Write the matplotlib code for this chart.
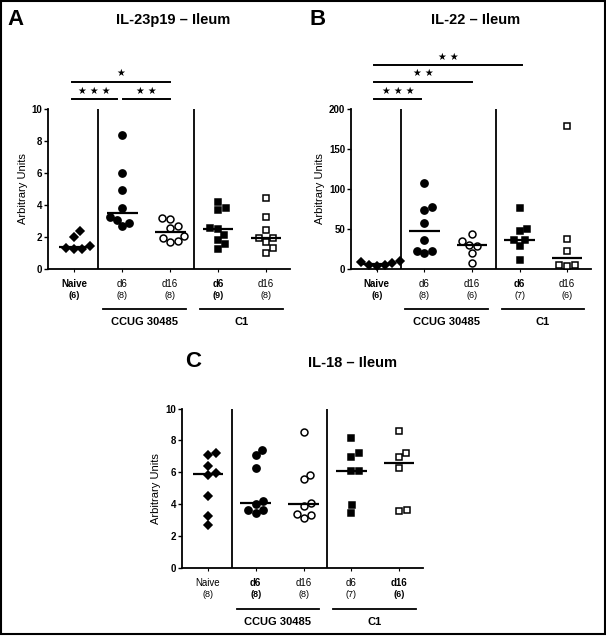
import numpy as np
import matplotlib
matplotlib.use('Agg')
import matplotlib.pyplot as plt
from matplotlib.transforms import blended_transform_factory
from matplotlib.patches import Rectangle

plt.rcParams['font.family'] = ['Liberation Sans', 'DejaVu Sans']

# categories
names = ['Naive', 'd6', 'd16', 'd6', 'd16']
strains = ['CCUG 30485', 'C1']

# A - IL-23p19
a_naive = [2.35, 1.98, 1.30, 1.25, 1.25, 1.42]
a_ccug_d6 = [8.33, 5.95, 4.90, 3.76, 3.03, 3.20, 2.88, 2.65]
a_ccug_d16 = [3.13, 3.19, 2.69, 2.55, 1.90, 1.67, 1.71, 2.02]
a_c1_d6 = [4.18, 3.78, 3.67, 2.46, 2.53, 2.11, 1.80, 1.52, 1.25]
a_c1_d16 = [4.43, 3.24, 2.40, 1.90, 1.94, 1.69, 1.27, 1.00]
a_n = ['(6)', '(8)', '(8)', '(9)', '(8)']

# B - IL-22
b_naive = [8.0, 5.0, 3.5, 4.0, 7.0, 9.5]
b_ccug_d6 = [107.7, 76.8, 73.5, 57.2, 35.9, 22.5, 20.0, 22.5]
b_ccug_d16 = [43.9, 30.1, 28.0, 33.9, 20.1, 7.1]
b_c1_d6 = [75.6, 47.2, 49.3, 35.9, 35.9, 28.8, 11.3]
b_c1_d16 = [178.3, 37.2, 22.5, 4.2, 2.9, 4.2]
b_n = ['(6)', '(8)', '(6)', '(7)', '(6)']

# C - IL-18
c_naive = [7.18, 7.06, 6.37, 5.97, 5.84, 4.54, 3.24, 2.71]
c_ccug_d6 = [7.37, 7.08, 6.26, 4.18, 4.03, 3.66, 3.45, 3.66]
c_ccug_d16 = [8.55, 5.84, 5.55, 4.10, 3.90, 3.40, 3.13, 3.30]
c_c1_d6 = [8.17, 7.18, 6.97, 6.07, 6.07, 3.95, 3.45]
c_c1_d16 = [8.57, 6.95, 7.18, 6.24, 3.55, 3.66]
c_n = ['(8)', '(8)', '(8)', '(7)', '(6)']

markers = ['D', 'o', 'o', 's', 's']
filled = [True, True, False, True, False]
msizes = [4.2, 5.2, 5.0, 5.0, 5.0]


def swarm(ax, x0, values, d_px=8.0):
    ys = ax.transData.transform([(x0, v) for v in values])[:, 1]
    px_per_x = ax.transData.transform((1, 0))[0] - ax.transData.transform((0, 0))[0]
    offs = np.zeros(len(values))
    placed = []
    for i in np.argsort(ys):
        y = ys[i]
        cands = [0.0]
        for px, py in placed:
            dy = abs(y - py)
            if dy < d_px:
                dx = np.sqrt(d_px ** 2 - dy ** 2)
                cands += [px + dx, px - dx]
        cands.sort(key=abs)
        for c in cands:
            if all((c - px) ** 2 + (y - py) ** 2 >= d_px ** 2 - 1e-6 for px, py in placed):
                break
        placed.append((c, y))
        offs[i] = c
    return x0 + offs / px_per_x


def panel(ax, data, ymax, step, nlabels, name_bold, n_bold, sigs):
    ax.set_xlim(-0.55, 4.5)
    ax.set_ylim(0, ymax)
    ax.set_yticks(np.arange(0, ymax + step / 2, step))
    ax.set_xticks(range(5))
    ax.set_xticklabels([])
    for s in ['top', 'right']:
        ax.spines[s].set_visible(False)
    for s in ['left', 'bottom']:
        ax.spines[s].set_linewidth(1.3)
    ax.tick_params(axis='y', length=3, width=1, pad=1, labelsize=7)
    ax.tick_params(axis='x', length=2.5, width=0.8)
    for t in ax.get_yticklabels():
        t.set_fontweight('bold')
    ax.set_ylabel('Arbitrary Units', fontsize=8, labelpad=3)
    ax.vlines([0.5, 2.5], 0, ymax, color='black', lw=1.3)

    for i, vals in enumerate(data):
        xs = swarm(ax, i, vals)
        ax.plot(xs, vals, ls='none', marker=markers[i], ms=msizes[i],
                mfc='black' if filled[i] else 'white', mec='black',
                mew=1.1, clip_on=False, zorder=3)
        ax.hlines(np.median(vals), i - 0.32, i + 0.32, color='black', lw=1.6, zorder=4)

    tr = blended_transform_factory(ax.transData, ax.transAxes)
    for i in range(5):
        ax.text(i, -0.096, names[i], transform=tr, ha='center', va='center',
                fontsize=7, fontweight='bold' if name_bold[i] else 'normal')
        ax.text(i, -0.168, nlabels[i], transform=tr, ha='center', va='center',
                fontsize=6.5, fontweight='bold' if n_bold[i] else 'normal')
    for (x1, x2), lab in zip([(0.6, 2.33), (2.62, 4.36)], strains):
        ax.plot([x1, x2], [-0.256, -0.256], transform=tr, color='black', lw=1.3, clip_on=False)
        ax.text((x1 + x2) / 2, -0.337, lab, transform=tr, ha='center', va='center',
                fontsize=8, fontweight='bold')

    for x1, x2, yb, stars in sigs:
        ax.plot([x1, x2], [yb, yb], transform=tr, color='black', lw=1.4, clip_on=False)
        ax.text((x1 + x2) / 2, yb + 0.052, stars, transform=tr, ha='center', va='center',
                fontsize=7, family='DejaVu Sans')


fig = plt.figure(figsize=(6.06, 6.36), dpi=100)
ax_a = fig.add_axes([0.0792, 0.5777, 0.3993, 0.2513])
ax_b = fig.add_axes([0.5786, 0.5777, 0.3967, 0.2513])
ax_c = fig.add_axes([0.2998, 0.1069, 0.3982, 0.2508])

panel(ax_a, [a_naive, a_ccug_d6, a_ccug_d16, a_c1_d6, a_c1_d16], 10, 2, a_n,
      [True, False, False, True, False], [True, False, False, True, False],
      [(-0.05, 0.9, 1.061, '\u2605 \u2605 \u2605'),
       (1.02, 2.0, 1.061, '\u2605 \u2605'),
       (-0.05, 2.0, 1.170, '\u2605')])
panel(ax_b, [b_naive, b_ccug_d6, b_ccug_d16, b_c1_d6, b_c1_d16], 200, 50, b_n,
      [True, False, False, True, False], [True, False, False, False, False],
      [(-0.05, 0.93, 1.061, '\u2605 \u2605 \u2605'),
       (-0.05, 2.0, 1.170, '\u2605 \u2605'),
       (-0.05, 3.05, 1.273, '\u2605 \u2605')])
panel(ax_c, [c_naive, c_ccug_d6, c_ccug_d16, c_c1_d6, c_c1_d16], 10, 2, c_n,
      [False, True, False, False, True], [False, True, False, False, True], [])

fig.text(0.2855, 0.9686, 'IL-23p19 \u2013 Ileum', ha='center', va='center', fontsize=10.5, fontweight='bold')
fig.text(0.785, 0.9686, 'IL-22 \u2013 Ileum', ha='center', va='center', fontsize=10.5, fontweight='bold')
fig.text(0.581, 0.4293, 'IL-18 \u2013 Ileum', ha='center', va='center', fontsize=10.5, fontweight='bold')
fig.text(0.013, 0.9686, 'A', ha='left', va='center', fontsize=16, fontweight='bold')
fig.text(0.511, 0.9686, 'B', ha='left', va='center', fontsize=16, fontweight='bold')
fig.text(0.306, 0.4310, 'C', ha='left', va='center', fontsize=16, fontweight='bold')

fig.patches.append(Rectangle((0.001, 0.003), 0.997, 0.996, transform=fig.transFigure,
                             fill=False, edgecolor='black', lw=1.5))

fig.savefig('out.png', dpi=100)
